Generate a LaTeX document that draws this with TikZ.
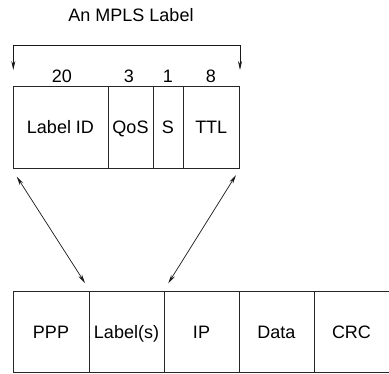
\documentclass[tikz,border=0pt]{standalone}
\usepackage{fontspec}
\setmainfont{Liberation Sans}
\usetikzlibrary{arrows.meta}
\begin{document}
\begin{tikzpicture}[x=1pt,y=-1pt,
  txt/.style={font=\fontsize{18}{21}\selectfont},
  cell/.style={txt, draw=black!85, line width=0.8pt, inner sep=0pt,
    text height=12.9pt, text depth=0pt},
  topcell/.style={cell, minimum height=82pt},
  botcell/.style={cell, minimum height=81pt},
  bits/.style={txt, anchor=base, inner sep=0pt},
  link/.style={line width=0.7pt, black!90,
    {Stealth[length=9pt,width=4pt]}-{Stealth[length=9pt,width=4pt]}}]
\useasboundingbox (0,0) rectangle (389,373);

% heading
\node[txt, anchor=base, inner sep=0pt] (title) at (131,21) {An MPLS Label};

% span bracket over the label
\coordinate (spanL) at (13.3,45);
\coordinate (spanR) at (240,45);
\coordinate (tipL) at (13.3,70);
\coordinate (tipR) at (240,70);
\draw[link] (tipL) -- (spanL) -- (spanR) -- (tipR);

% field widths in bits
\node[bits] (b20) at (62,82) {20};
\node[bits] (b3)  at (129,82) {3};
\node[bits] (b1)  at (168,82) {1};
\node[bits] (b8)  at (211,82) {8};

% the MPLS label fields
\node[topcell, minimum width=95pt]   (lid) at (60.5,127)  {Label ID};
\node[topcell, minimum width=45pt]   (qos) at (130.5,127) {QoS};
\node[topcell, minimum width=30pt]   (sb)  at (168,127)   {S};
\node[topcell, minimum width=56.5pt] (ttl) at (211.25,127) {TTL};

% the frame carrying the label
\node[botcell, minimum width=76pt] (ppp)  at (51,331.8)    {PPP};
\node[botcell, minimum width=75pt] (lbls) at (126.5,331.8) {Label(s)};
\node[botcell, minimum width=75pt] (ip)   at (201.5,331.8) {IP};
\node[botcell, minimum width=75pt] (data) at (276.5,331.8) {Data};
\node[botcell, minimum width=75pt] (crc)  at (351.5,331.8) {CRC};

% label expands into the Label(s) field
\coordinate (upL) at (16.7,176.5);
\coordinate (upR) at (236,175);
\coordinate (dnL) at (85,283);
\coordinate (dnR) at (168.3,283.3);
\draw[link] (upL) -- (dnL);
\draw[link] (upR) -- (dnR);
\end{tikzpicture}
\end{document}
